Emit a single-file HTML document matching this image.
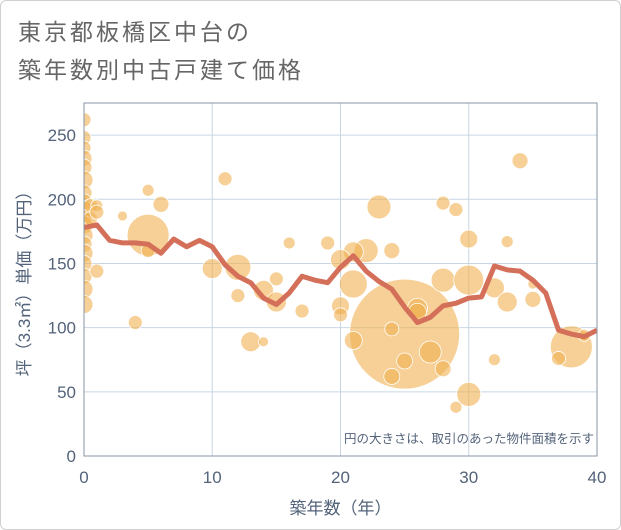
<!DOCTYPE html>
<html><head><meta charset="utf-8">
<style>
html,body{margin:0;padding:0;background:#fff;}
body{width:621px;height:530px;overflow:hidden;font-family:"Liberation Sans","Noto Sans CJK JP",sans-serif;}
#frame{position:absolute;left:0;top:0;width:619px;height:528px;border:1px solid #d0d0d0;border-radius:6px;}
</style></head>
<body>
<div id="frame"></div>
<svg id="chart" width="621" height="530" style="position:absolute;left:0;top:0">
<defs><clipPath id="plotclip"><rect x="84" y="103" width="513" height="353"/></clipPath></defs>
<text x="18" y="40" font-size="23" fill="#666" letter-spacing="3" font-family="Liberation Sans, Noto Sans CJK JP, sans-serif">東京都板橋区中台の</text>
<text x="18" y="78" font-size="23" fill="#666" letter-spacing="3" font-family="Liberation Sans, Noto Sans CJK JP, sans-serif">築年数別中古戸建て価格</text>
<g id="grid"></g><g id="bubbles" clip-path="url(#plotclip)"></g><g id="line" clip-path="url(#plotclip)"></g><g id="axes"></g>
</svg>
<script>
const xTicks=[0,10,20,30,40];
const yTicks=[0,50,100,150,200,250];
const years=[0,1,2,3,4,5,6,7,8,9,10,11,12,13,14,15,16,17,18,19,20,21,22,23,24,25,26,27,28,29,30,31,32,33,34,35,36,37,38,39,40];
const avgPrice=[178,180,168,166,166,165,158,169,163,168,163,149,140,135,123,118,127,140,137,135,147,156,144,136,130,116,104,108,117,119,123,124,148,145,144,137,127,98,95,93,98];
const bubX=[0,0,0,0,0,0,0,0,0,0,0,0,0,0,0,0,0,0,0.5,0.5,1,1,1,3,4,5,5,5,6,11,10,12,12,13,14,14,15,15,16,17,19,25,23,28,29,30,33,34,22,24,21,20,21,28,30,32,33,35,35,26,26,20,20,21,24,27,25,24,28,32,30,29,38,37,39];
const bubY=[262,248,240,232,225,215,205,198,192,186,180,172,165,158,150,140,130,118,195,185,195,190,144,187,104,207,172,160,196,216,146,147,125,89,89,129,138,120,166,113,166,95,194,197,192,169,167,230,160,160,159,153,134,137,137,131,120,122,134,115,112,117,110,90,99,81,74,62,68,75,48,38,85,76,94];
const bubR=[7,7,7,8,8,9,8,8,9,8,9,9,8,9,8,8,9,9,7,7,6,7,7,5,7,6,21,7,8,7,10,13,7,10,5,10,7,10,6,7,7,55,12,7,7,9,6,8,12,8,10,10,14,12,15,10,10,8,5,10,9,9,7,9,7,11,8,8,8,6,12,6,21,7,6];
const L=84,R=597,T=103,B=456,xMax=40,yMax=275;
const sx=v=>L+(R-L)*v/xMax, sy=v=>B-(B-T)*v/yMax;
const NS="http://www.w3.org/2000/svg";
function mk(tag,attrs,parent){const e=document.createElementNS(NS,tag);for(const k in attrs)e.setAttribute(k,attrs[k]);parent.appendChild(e);return e;}
const grid=document.getElementById('grid'),bub=document.getElementById('bubbles'),ln=document.getElementById('line'),ax=document.getElementById('axes');
mk('rect',{x:L,y:T,width:R-L,height:B-T,fill:'#fff'},grid);
xTicks.forEach(t=>{
 const g=mk('line',{x1:sx(t),x2:sx(t),y1:T,y2:B,stroke:'#c8d6e4','stroke-width':1},grid);
 
 
 const tx=mk('text',{x:sx(t),y:483,'text-anchor':'middle','font-size':17,fill:'#53637a'},ax);
 tx.textContent=t;
 
 
});
yTicks.forEach(t=>{
 const g=mk('line',{x1:L,x2:R,y1:sy(t),y2:sy(t),stroke:'#c8d6e4','stroke-width':1},grid);
 
 
 const tx=mk('text',{x:76,y:sy(t)+6,'text-anchor':'end','font-size':17,fill:'#53637a'},ax);
 tx.textContent=t;
 
 
});
bubX.forEach((x,i)=>{
 const c=mk('circle',{cx:sx(x),cy:sy(bubY[i]),r:bubR[i],fill:'#f0b050','fill-opacity':0.6,stroke:'#fff','stroke-width':0.8},bub);
 
 
});
const p=mk('polyline',{points:years.map((y,i)=>sx(y)+','+sy(avgPrice[i])).join(' '),fill:'none',stroke:'#d4705a','stroke-width':5,'stroke-linejoin':'round'},ln);


const br=mk('rect',{x:L,y:T,width:R-L,height:B-T,fill:'none',stroke:'#8a96a4','stroke-width':1},ax);


const note=mk('text',{x:594,y:443,'text-anchor':'end','font-size':12.5,fill:'#53637a'},ax);
note.textContent='円の大きさは、取引のあった物件面積を示す';


const xt=mk('text',{x:sx(20),y:514,'text-anchor':'middle','font-size':17,fill:'#53637a'},ax);
xt.textContent='築年数（年）';


const yt=mk('text',{x:0,y:0,'text-anchor':'middle','font-size':17,fill:'#53637a',transform:'translate(30,'+((T+B)/2)+') rotate(-90)'},ax);
yt.textContent='坪（3.3㎡）単価（万円）';


</script>
</body></html>
